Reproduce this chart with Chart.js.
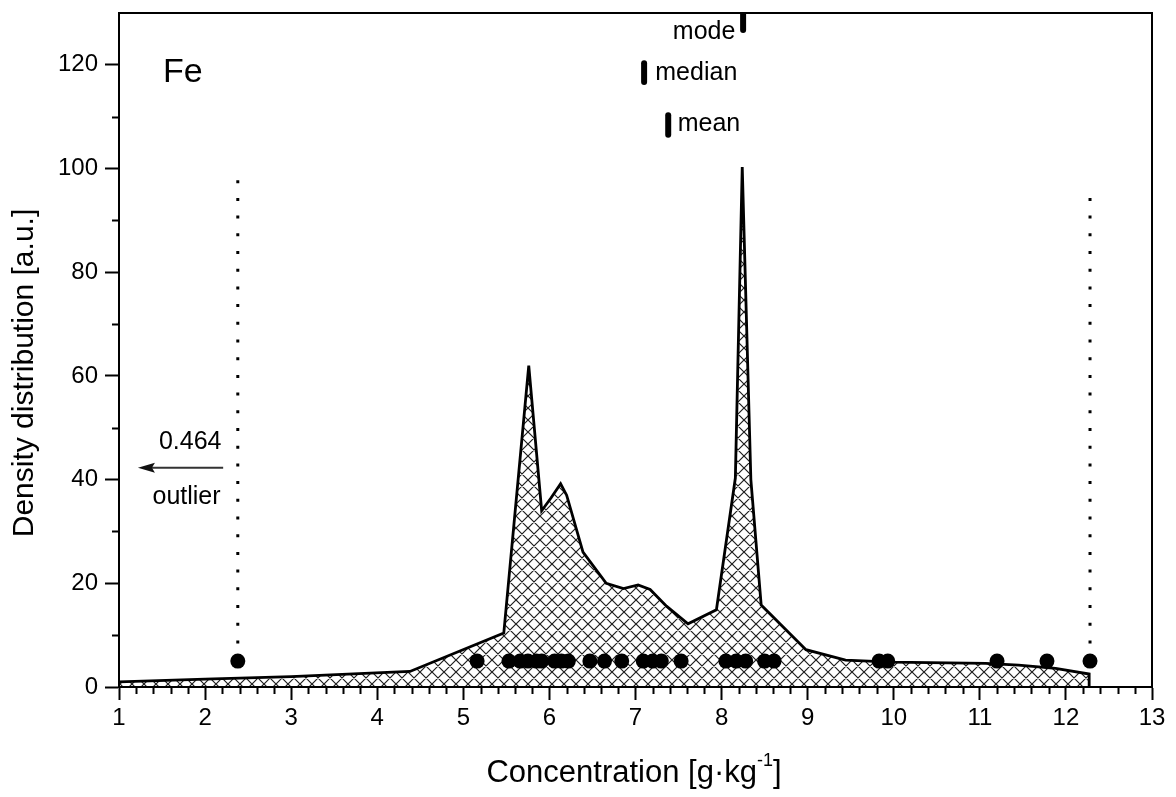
<!DOCTYPE html>
<html>
<head>
<meta charset="utf-8">
<script src="https://cdn.jsdelivr.net/npm/chart.js@4.4.1/dist/chart.umd.min.js"></script>
<style>
  html, body { margin: 0; padding: 0; background: #fff; }
  canvas { display: block; }
</style>
</head>
<body>
<canvas id="chart" width="1176" height="797"></canvas>
<script>
const FONT = '"Liberation Sans", Arial, Helvetica, sans-serif';

// density curve
const densityX = [1.0, 2.0, 3.0, 4.38, 5.47, 5.76, 5.91, 6.02, 6.13, 6.2, 6.39, 6.66, 6.86, 7.03, 7.17, 7.36, 7.61, 7.94, 8.16, 8.24, 8.34, 8.46, 8.98, 9.44, 9.98, 11.07, 11.45, 11.88, 12.27, 12.27];
const densityY = [1.0, 1.5, 2.0, 3.0, 10.4, 62, 34, 36.5, 39.2, 37, 26, 20, 19, 19.7, 18.8, 15.6, 12.2, 14.9, 40.3, 100.3, 40, 15.8, 7.2, 5.2, 4.8, 4.55, 4.2, 3.6, 2.5, 0];

// single measurements shown as dots
const samplesX = [2.38, 5.16, 5.53, 5.66, 5.75, 5.85, 5.91, 6.06, 6.14, 6.22, 6.47, 6.64, 6.84, 7.09, 7.2, 7.3, 7.53, 8.05, 8.17, 8.28, 8.5, 8.61, 9.83, 9.93, 11.2, 11.78, 12.28];
const SAMPLE_Y = 5;

// dotted fences
const fenceX   = [2.38, 12.28];
const fenceTop = [100, 97];

// mode / median / mean markers
const statNames = ['mode', 'median', 'mean'];
const statX     = [8.25, 7.10, 7.38];
const statLow   = [126.7, 116.7, 106.5];
const statHigh  = [130, 120.3, 110.3];

const xMin = 1, xMax = 13, xStep = 1, xMinor = 0.2;
const yMin = 0, yMax = 130, yStep = 20, yMinor = 10;

// ─── hatch pattern ─────────────────────────────────────────
function makeHatch(ctx) {
    const s = 12;
    const off = document.createElement('canvas');
    off.width = s; off.height = s;
    const c = off.getContext('2d');
    c.strokeStyle = '#1e1e1e';
    c.lineWidth = 1.2;
    c.beginPath();
    for (let k = -1; k <= 1; k++) {
        c.moveTo(k * s - 1, -1);       c.lineTo(k * s + s + 1, s + 1);
        c.moveTo(k * s + s + 1, -1);   c.lineTo(k * s - 1, s + 1);
    }
    c.stroke();
    return ctx.createPattern(off, 'repeat');
}

// ─── decorations: frame, minor ticks, texts, arrow ────────
const decor = {
    id: 'decor',
    afterDatasetsDraw(chart) {
        const { ctx, chartArea: a, scales: { x, y } } = chart;
        ctx.save();
        ctx.strokeStyle = '#000';
        ctx.lineWidth = 2;
        ctx.strokeRect(a.left, a.top, a.right - a.left, a.bottom - a.top);

        // minor ticks
        ctx.beginPath();
        for (let v = xMin + xMinor; v < xMax - 1e-6; v += xMinor) {
            if (Math.abs(v - Math.round(v)) < 1e-6) continue;
            const px = Math.round(x.getPixelForValue(v)) + 0.5;
            ctx.moveTo(px, a.bottom); ctx.lineTo(px, a.bottom + 7);
        }
        for (let v = yMinor; v < yMax; v += yStep) {
            const py = Math.round(y.getPixelForValue(v)) + 0.5;
            ctx.moveTo(a.left, py); ctx.lineTo(a.left - 7, py);
        }
        ctx.stroke();

        ctx.fillStyle = '#000';
        ctx.textBaseline = 'middle';

        // element label
        ctx.font = `34px ${FONT}`;
        ctx.textAlign = 'left';
        ctx.fillText('Fe', x.getPixelForValue(1.51), y.getPixelForValue(118.5));

        // stat labels
        ctx.font = `25px ${FONT}`;
        ctx.textAlign = 'right';
        ctx.fillText(statNames[0], x.getPixelForValue(8.16), y.getPixelForValue(126.4));
        ctx.textAlign = 'left';
        ctx.fillText(statNames[1], x.getPixelForValue(7.23), y.getPixelForValue(118.4));
        ctx.fillText(statNames[2], x.getPixelForValue(7.49), y.getPixelForValue(108.6));

        // outlier note
        ctx.textAlign = 'right';
        ctx.fillText('0.464', x.getPixelForValue(2.19), y.getPixelForValue(47.3));
        ctx.fillText('outlier', x.getPixelForValue(2.18), y.getPixelForValue(36.6));

        const ay = y.getPixelForValue(42.3);
        const ax0 = x.getPixelForValue(2.21), ax1 = x.getPixelForValue(1.22);
        ctx.strokeStyle = '#333';
        ctx.lineWidth = 2;
        ctx.beginPath();
        ctx.moveTo(ax0, ay); ctx.lineTo(ax1 + 10, ay);
        ctx.stroke();
        ctx.fillStyle = '#111';
        ctx.beginPath();
        ctx.moveTo(ax1, ay);
        ctx.lineTo(ax1 + 17, ay - 5);
        ctx.lineTo(ax1 + 14, ay);
        ctx.lineTo(ax1 + 17, ay + 5);
        ctx.closePath();
        ctx.fill();

        // axis titles
        ctx.fillStyle = '#000';
        ctx.font = `30px ${FONT}`;
        ctx.textAlign = 'center';
        ctx.save();
        ctx.translate(25, 373);
        ctx.rotate(-Math.PI / 2);
        ctx.fillText('Density distribution [a.u.]', 0, 0);
        ctx.restore();

        const main = 'Concentration [g·kg', sup = '-1', tail = ']';
        ctx.font = `31px ${FONT}`;
        const wMain = ctx.measureText(main).width, wTail = ctx.measureText(tail).width;
        ctx.font = `18px ${FONT}`;
        const wSup = ctx.measureText(sup).width;
        let tx = 634 - (wMain + wSup + wTail) / 2;
        const ty = 773;
        ctx.textAlign = 'left';
        ctx.font = `31px ${FONT}`;
        ctx.fillText(main, tx, ty);
        tx += wMain;
        ctx.font = `18px ${FONT}`;
        ctx.fillText(sup, tx, ty - 12);
        tx += wSup;
        ctx.font = `31px ${FONT}`;
        ctx.fillText(tail, tx, ty);
        ctx.restore();
    }
};

const ctx = document.getElementById('chart').getContext('2d');
const hatch = makeHatch(ctx);

const datasets = [
    {
        type: 'line',
        data: densityX.map((v, i) => ({ x: v, y: densityY[i] })),
        borderColor: '#000', borderWidth: 2.8, borderJoinStyle: 'miter',
        backgroundColor: hatch, fill: 'origin',
        pointRadius: 0, tension: 0, order: 5
    },
    {
        type: 'scatter',
        data: samplesX.map(v => ({ x: v, y: SAMPLE_Y })),
        backgroundColor: '#000', borderColor: '#000', borderWidth: 0,
        pointRadius: 7.5, order: 1
    }
];
fenceX.forEach((v, i) => datasets.push({
    type: 'line',
    data: [{ x: v, y: SAMPLE_Y }, { x: v, y: fenceTop[i] }],
    borderColor: '#000', borderWidth: 3, borderDash: [3, 14.7],
    pointRadius: 0, fill: false, order: 3
}));
statX.forEach((v, i) => datasets.push({
    type: 'line',
    data: [{ x: v, y: statLow[i] }, { x: v, y: statHigh[i] }],
    borderColor: '#000', borderWidth: 6, borderCapStyle: 'round',
    pointRadius: 0, fill: false, order: 2
}));

new Chart(ctx, {
    type: 'scatter',
    data: { datasets },
    options: {
        responsive: false,
        animation: false,
        layout: { padding: { top: 13, right: 24, left: 0, bottom: 0 } },
        plugins: { legend: { display: false }, tooltip: { enabled: false } },
        scales: {
            x: {
                type: 'linear', min: xMin, max: xMax,
                ticks: { stepSize: xStep, color: '#000', padding: 4, maxRotation: 0, font: { family: FONT, size: 24 } },
                grid: { drawOnChartArea: false, tickLength: 13, tickWidth: 2, tickColor: '#000' },
                border: { color: '#000', width: 2 },
                afterFit: s => { s.height = 110; s.paddingLeft = 0; s.paddingRight = 0; }
            },
            y: {
                type: 'linear', min: yMin, max: yMax,
                ticks: { stepSize: yStep, includeBounds: false, color: '#000', padding: 7, font: { family: FONT, size: 24 } },
                grid: { drawOnChartArea: false, tickLength: 14, tickWidth: 2, tickColor: '#000' },
                border: { color: '#000', width: 2 },
                afterFit: s => { s.width = 119; s.paddingTop = 0; s.paddingBottom = 0; }
            }
        }
    },
    plugins: [decor]
});
</script>
</body>
</html>
